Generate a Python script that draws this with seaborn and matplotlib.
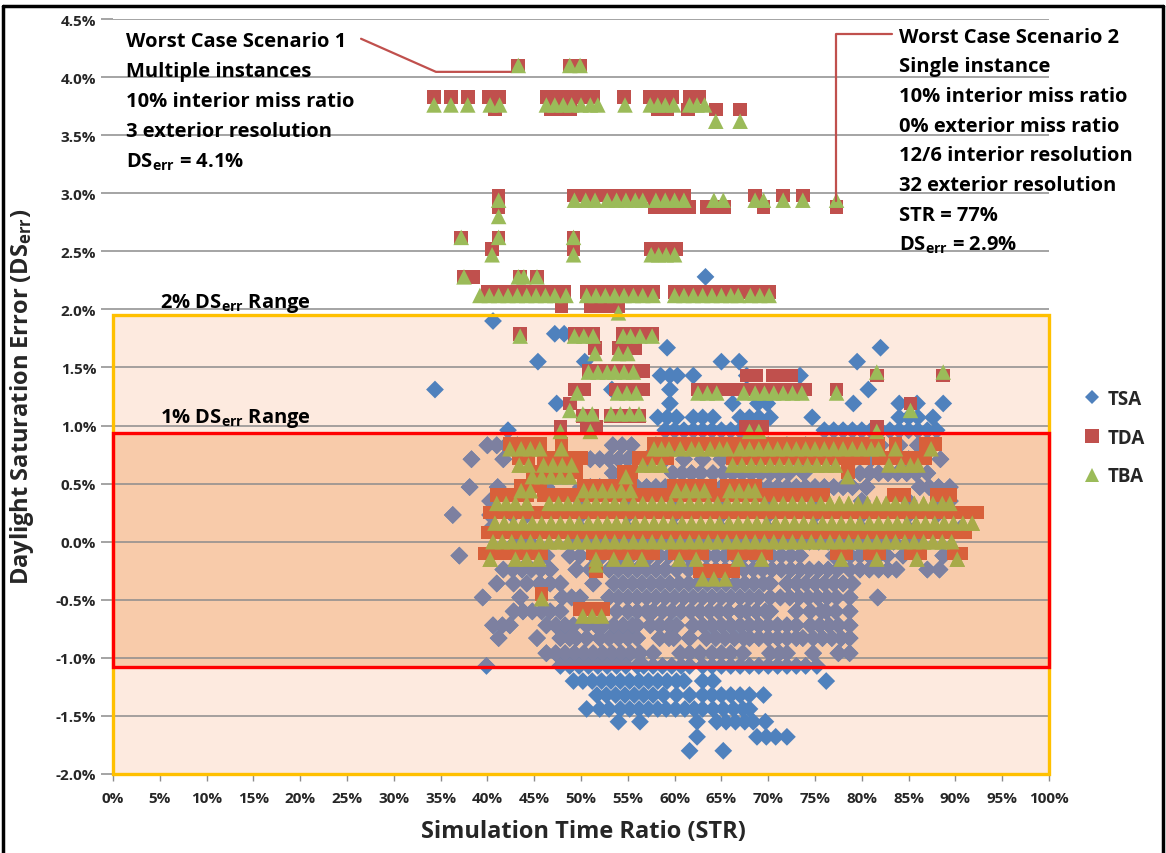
import matplotlib
matplotlib.use("Agg")
import matplotlib.pyplot as plt
from matplotlib.patches import Rectangle
from matplotlib.lines import Line2D
import pandas as pd
import seaborn as sns

# ---------------- data (STR %, DS_err %) ----------------
SERIES = ["TSA", "TDA", "TBA"]

TSA_ROWS = [
    (2.28, [63.3]),
    (1.90, [40.6]),
    (1.79, [47.2, 48.2]),
    (1.67, [59.2, 82.0]),
    (1.55, [45.4, 50.4, 65.0, 66.9, 79.5]),
    (1.43, [58.5, 59.5, 60.3, 62.0, 67.7, 73.4]),
    (1.31, [34.4, 53.3, 59.5, 80.7]),
    (1.19, [47.4, 59.5, 66.2, 68.9, 69.9, 79.1, 84.0, 85.9, 88.7]),
    (1.07, [50.4, 58.2, 59.2, 60.2, 62.0, 63.0, 64.1, 67.0, 68.0, 69.0, 70.2, 74.7, 84.0, 85.0, 86.0, 87.6]),
    (0.96, [42.2, 59, 60, 61, 62, 63, 64, 65, 66, 67, 68, 76, 77, 78, 79, 80, 81, 82, 83, 84, 85, 86, 87, 88]),
    (0.83, [40.0, 41.0, 42.0, 43.2, 53.4, 54.4, 55.4, 58, 60, 62, 64, 66, 68, 70, 72, 74, 76, 78, 80, 82, 84, 86]),
    (0.71, [38.3, 41.7, 51, 52, 53, 54, 55, 57, 59, 61, 63, 65, 67, 69, 71, 73, 75, 77, 79, 81, 83, 85, 88.4]),
    (0.59, [53.4, 59.8, 60.8, 61.8, 62.8, 64.1, 65.2, 66.2, 67.2, 68.2, 69.2, 70.2, 71.2, 72.2, 73.8,
            79.8, 80.8, 81.8, 82.8, 83.8, 84.8, 85.8, 87.0]),
    (0.47, [38.1, 41.1, 46.3, 50, 51, 52, 53, 54, 55, 56, 57, 58, 59, 60, 61, 62, 63, 64, 65, 66, 67, 68, 69,
            70, 71, 72, 73, 74, 75, 76, 77, 78, 79, 80.5, 86.2, 87.2, 88.2, 89.4]),
    (0.35, [40.3, 50, 55, 60, 65, 70, 75, 80, 85, 88.4, 89.4]),
    (0.23, [36.3, 40.3, 42.7, 44.2, 50, 55, 60, 65, 70, 75, 80, 85, 88.0]),
    (0.11, [40.3, 50, 55, 60, 65, 70, 75, 80, 85, 90.5]),
    (0.00, [43.1, 44.5, 49.2, 50.2, 51.2, 52.4, 53.4, 54.4, 55.4, 56.4, 57.4, 58.4, 59.4, 60.4, 61.4, 62.4,
            63.4, 64.4, 65.4, 66.4, 67.4, 68.4, 69.4, 70.4, 71.4, 72.4, 73.4, 74.4, 75.4, 76.4, 77.4, 78.4,
            79.4, 80.4, 81.4, 82.4, 83.4, 85.0, 86.0]),
    (-0.12, [37.0, 46.3, 48.8, 49.9, 51.3, 52.3, 53.4, 54.4, 55.4, 56.4, 57.4, 58.4, 59.4, 60.4, 61.4, 62.4,
             63.4, 64.4, 65.4, 66.4, 67.4, 68.4, 69.4, 70.4, 71.4, 72.4, 73.4, 77.0, 78.0, 78.8, 79.8, 80.8,
             81.8, 82.7, 84.4, 88.7]),
    (-0.24, [41.7, 42.7, 43.7, 44.7, 45.7, 46.7, 49.5, 51.0, 53.0, 54.0, 55.0, 56.0, 57.0, 58.0, 59.0, 60.2,
             61.5, 63.4, 64.4, 65.4, 66.4, 67.4, 68.4, 69.4, 70.4, 71.4, 72.4, 73.4, 74.4, 75.4, 76.4, 77.4,
             78.7, 79.8, 80.8, 81.8, 82.8, 83.7, 87.0, 88.3]),
    (-0.36, [41.0, 42.8, 44.2, 45.6, 46.7, 47.8, 51.3, 53.5, 54.5, 55.5, 56.5, 57.5, 58.5, 59.5, 60.5, 61.5,
             62.5, 63.5, 64.5, 65.5, 66.5, 67.5, 68.5, 69.5, 70.2, 72.0, 73.0, 74.0, 75.0, 76.0, 77.0, 78.0,
             79.0]),
    (-0.48, [39.5, 43.5, 48.0, 49.0, 49.9, 53.0, 54.0, 55.0, 56.0, 57.0, 58.0, 59.0, 60.0, 61.0, 62.0, 63.0,
             64.0, 65.0, 66.0, 67.0, 68.0, 69.0, 70.2, 71.3, 72.3, 73.3, 74.3, 75.3, 76.3, 77.3, 78.7, 81.7]),
    (-0.60, [42.8, 43.8, 44.8, 45.8, 46.7, 47.8, 53.8, 55.0, 56.0, 57.0, 57.7, 58.7, 59.7, 60.7, 61.7, 62.7,
             63.7, 64.7, 65.7, 67.0, 67.7, 68.7, 69.7, 70.2, 73.0, 74.5, 75.7, 76.2, 77.2, 78.7]),
    (-0.72, [40.6, 41.6, 42.4, 46.3, 47.3, 48.3, 49.2, 50.6, 51.6, 52.4, 53.5, 54.5, 55.5, 56.0, 57.4, 58.4,
             59.4, 60.2, 62.0, 63.0, 64.0, 65.0, 66.0, 67.0, 68.0, 69.0, 70.0, 71.0, 72.0, 73.0, 74.5, 75.5,
             76.5, 77.5, 78.7]),
    (-0.83, [41.2, 45.3, 47.8, 48.8, 49.5, 50.6, 52.0, 53.0, 54.0, 55.0, 56.0, 58.4, 59.4, 59.9, 61.6, 63.4,
             64.4, 65.4, 66.4, 67.4, 68.0, 69.0, 70.0, 71.0, 72.0, 73.0, 73.7, 74.8, 75.8, 76.8, 77.8, 78.7]),
    (-0.96, [46.3, 47.3, 48.3, 49.3, 50.3, 51.3, 52.3, 53.3, 54.3, 55.3, 56.3, 57.7, 60.6, 61.6, 62.7, 64.0,
             65.0, 66.0, 67.3, 70.2, 71.2, 72.0, 74.8, 77.5, 78.7]),
    (-1.07, [39.9, 47.8, 48.8, 49.8, 50.8, 51.8, 52.8, 53.8, 54.8, 56.0, 56.7, 57.7, 58.7, 59.7, 60.7, 61.6,
             63.0, 64.0, 65.0, 66.0, 67.0, 68.0, 69.0, 70.0, 71.0, 72.0, 73.0, 74.0, 75.2]),
    (-1.20, [49.2, 50.2, 51.2, 52.2, 53.2, 54.2, 55.2, 56.2, 57.2, 58.2, 59.2, 60.2, 61.0, 63.0, 64.1, 76.2]),
    (-1.32, [51.7, 52.7, 53.7, 54.7, 55.7, 56.7, 57.7, 58.8, 60.2, 61.6, 63.0, 64.0, 65.0, 66.0, 67.0, 68.0,
             69.5]),
    (-1.44, [50.6, 52.0, 53.0, 54.2, 55.2, 56.2, 57.2, 58.2, 59.1, 60.1, 61.1, 62.1, 63.0, 64.1, 65.2, 66.3,
             67.3, 68.0]),
    (-1.55, [54.0, 56.3, 62.4, 64.5, 65.5, 66.5, 67.5, 68.4, 69.7]),
    (-1.68, [62.4, 68.8, 69.8, 70.8, 72.0]),
    (-1.80, [61.6, 65.2]),
]

TDA_ROWS = [
    (4.10, [43.3, 48.8, 49.9]),
    (3.83, [34.3, 36.1, 37.9, 40.2, 41.3, 46.3, 47.3, 48.3, 49.3, 50.3, 51.3, 54.6, 57.4, 58.4, 59.7, 61.6, 62.6]),
    (3.72, [40.8, 46.8, 47.8, 48.8, 58.2, 59.2, 61.4, 64.4, 67.0]),
    (2.98, [41.2, 49.2, 50.2, 51.2, 52.6, 53.6, 54.6, 55.6, 56.5, 57.9, 58.9, 59.9, 61.0, 68.6, 71.6, 73.7]),
    (2.88, [41.2, 57.9, 58.9, 59.9, 61.0, 61.6, 63.4, 64.4, 65.3, 69.5, 77.3]),
    (2.62, [37.2, 41.2, 49.2]),
    (2.52, [40.5, 49.2, 57.5, 58.5, 59.5, 60.2]),
    (2.28, [37.5, 38.5, 43.5, 45.3]),
    (2.15, [40.0, 41.0, 42.0, 43.0, 44.0, 45.0, 46.0, 47.0, 48.2, 50.6, 51.6, 52.6, 53.6, 54.6, 55.6, 56.6,
            57.7, 60.0, 61.0, 62.0, 63.0, 64.0, 65.0, 66.0, 66.8, 68.1, 69.1, 70.1]),
    (2.03, [47.9, 51.0, 52.0, 53.0, 54.0]),
    (1.79, [43.5, 49.3, 50.3, 51.3, 54.5, 55.5, 56.3, 57.6]),
    (1.67, [51.5, 54.0, 55.0, 55.8]),
    (1.47, [50.8, 51.8, 52.8, 53.8, 54.8, 55.8, 56.6]),
    (1.43, [67.7, 68.7, 70.5, 71.5, 72.5, 81.6, 88.7]),
    (1.31, [49.3, 50.3, 53.7, 54.7, 55.7, 56.6, 62.5, 63.5, 64.5, 65.5, 67.0, 68.0, 69.0, 70.0, 71.0, 72.0,
            73.0, 74.0, 77.3]),
    (1.19, [48.8, 85.2]),
    (1.08, [50.2, 51.2, 53.2, 54.2, 55.2, 56.2]),
    (0.99, [47.8, 50.6, 51.6, 67.6, 68.6, 69.4, 81.6]),
    (0.84, [42.4, 43.6, 44.6, 45.6, 47.9, 57.8, 58.8, 59.8, 60.8, 61.8, 62.8, 63.8, 64.8, 65.8, 66.8, 67.8,
            68.8, 69.8, 70.8, 71.8, 72.8, 73.8, 74.8, 75.8, 76.8, 77.8, 78.8, 79.8, 80.8, 81.8, 83.6, 86.8, 87.8]),
    (0.72, [43.4, 44.4, 46.0, 47.0, 48.0, 49.0, 50.0, 56.2, 57.2, 58.2, 59.2, 66.2, 67.2, 68.2, 69.2, 70.2,
            71.2, 72.2, 73.2, 74.2, 75.2, 76.2, 77.2, 78.2, 79.2, 80.2, 81.8, 82.8, 83.8, 84.8, 85.8, 86.8]),
    (0.60, [44.8, 45.8, 46.8, 47.8, 48.8, 49.5, 54.6, 55.4, 78.5]),
    (0.48, [43.6, 44.6, 45.6, 50.3, 51.3, 52.3, 53.3, 54.3, 55.3, 59.9, 60.9, 61.9, 62.9, 63.8, 65.6, 66.6,
            67.6, 68.6]),
    (0.40, [41.0, 42.0, 43.0, 44.2, 46.0, 47.0, 48.0, 49.0, 50.0, 51.0, 52.0, 53.0, 54.0, 55.0, 56.0, 57.0,
            58.0, 59.0, 60.0, 61.0, 62.0, 63.0, 64.0, 65.0, 66.0, 67.0, 68.0, 69.0, 70.0, 71.0, 72.0, 73.0,
            73.8, 75.0, 75.9, 83.4, 84.5, 88.0, 89.4]),
    (0.25, [40.3, 41.3, 42.3, 43.3, 44.3, 45.3, 46.3, 47.3, 48.3, 49.3, 50.3, 51.3, 52.3, 53.3, 54.3, 55.3,
            56.3, 57.3, 58.3, 59.3, 60.3, 61.3, 62.3, 63.3, 64.3, 65.3, 66.3, 67.3, 68.3, 69.3, 70.3, 71.3,
            72.3, 73.3, 74.3, 75.3, 76.3, 77.3, 78.3, 79.3, 80.3, 81.3, 82.3, 83.3, 84.3, 85.3, 86.3, 87.3,
            88.3, 89.3, 90.3, 91.3, 92.3]),
    (0.08, [40.0, 41.0, 42.0, 43.0, 44.0, 45.0, 46.0, 47.0, 48.0, 49.0, 50.0, 51.0, 52.0, 53.0, 54.0, 55.0,
            56.0, 57.0, 58.0, 59.0, 60.0, 61.0, 62.0, 63.0, 64.0, 65.0, 66.0, 67.0, 68.0, 69.0, 70.0, 71.0,
            72.0, 73.0, 74.0, 75.0, 76.0, 77.0, 78.0, 79.0, 80.0, 81.0, 82.0, 83.0, 84.0, 85.0, 86.0, 87.0,
            88.0, 89.0, 90.0, 91.0]),
    (-0.10, [39.7, 40.7, 41.7, 42.7, 43.7, 44.7, 45.7, 51.3, 52.3, 53.0, 54.0, 55.0, 56.0, 57.0, 57.7, 60.0,
             61.0, 62.0, 63.0, 66.3, 67.3, 68.8, 69.8, 77.3, 78.3, 80.9, 81.9, 85.2, 86.2, 89.8, 90.6]),
    (-0.25, [51.6, 62.7, 63.7, 64.7, 65.7, 66.3]),
    (-0.45, [45.8]),
    (-0.58, [49.9, 50.9, 51.9, 52.4]),
]

TBA_ROWS = [
    (4.10, [43.3, 48.8, 49.9]),
    (3.76, [34.3, 36.1, 37.9, 40.3, 41.3, 46.3, 47.2, 48.1, 49.0, 50.0, 51.0, 51.8, 54.7, 57.4, 58.2, 59.0,
            59.9, 61.6, 62.4, 63.2]),
    (3.62, [64.4, 67.0]),
    (2.94, [41.2, 49.3, 50.5, 51.5, 52.8, 53.8, 54.8, 55.8, 56.6, 58.0, 59.0, 60.0, 61.0, 64.2, 65.2, 68.6,
            69.5, 71.6, 73.7, 77.3]),
    (2.80, [41.2]),
    (2.62, [37.2, 41.2, 49.2]),
    (2.47, [40.5, 49.2, 57.5, 58.3, 59.1, 60.0]),
    (2.28, [37.5, 43.3, 43.9, 45.3]),
    (2.12, [39.2, 40.2, 41.2, 42.2, 43.2, 44.2, 45.2, 46.2, 47.2, 48.4, 50.6, 51.6, 52.6, 53.6, 54.6, 55.6,
            56.6, 57.7, 60.0, 61.0, 62.0, 63.0, 64.0, 65.0, 66.0, 66.8, 68.1, 69.1, 70.1]),
    (1.97, [54.0]),
    (1.77, [43.5, 49.3, 50.3, 51.3, 54.5, 55.3, 56.3, 57.6]),
    (1.62, [51.5, 54.0, 55.0]),
    (1.46, [50.8, 51.8, 52.8, 53.6, 54.6, 55.6, 81.6, 88.7]),
    (1.28, [49.6, 53.9, 54.9, 55.9, 62.5, 63.5, 64.5, 67.4, 68.6, 69.6, 70.6, 71.6, 72.6, 73.6, 77.3]),
    (1.13, [48.8, 85.2]),
    (1.10, [50.2, 51.2, 53.2, 54.2, 55.2, 56.2]),
    (0.95, [47.8, 51.0, 68.0, 69.0, 81.6]),
    (0.80, [42.4, 43.6, 44.6, 45.6, 47.9, 57.8, 58.6, 59.4, 60.6, 61.8, 62.6, 63.8, 64.8, 65.6, 67.0, 68.0,
            69.0, 70.0, 71.0, 72.0, 73.0, 74.0, 75.0, 76.0, 77.0, 78.0, 79.0, 80.0, 81.0, 81.8, 83.6, 87.4]),
    (0.66, [43.4, 44.4, 46.0, 47.0, 48.0, 49.0, 56.6, 57.6, 58.6, 66.2, 67.2, 68.2, 69.2, 70.2, 71.2, 72.2,
            73.2, 74.2, 75.2, 76.2, 77.2, 82.9, 84.2, 85.2, 86.0]),
    (0.56, [44.8, 45.8, 46.8, 47.8, 48.8, 54.8, 78.5]),
    (0.44, [43.6, 44.6, 50.3, 51.3, 52.3, 53.3, 54.3, 55.3, 60.2, 61.2, 62.2, 63.2, 65.9, 66.9, 67.9, 68.6]),
    (0.33, [41.0, 42.0, 43.0, 44.2, 46.6, 47.6, 48.6, 49.6, 50.6, 51.6, 52.6, 53.6, 54.6, 55.6, 56.6, 57.6,
            58.6, 59.6, 60.6, 61.6, 62.6, 63.6, 64.6, 65.6, 66.6, 67.6, 68.6, 69.6, 70.6, 71.6, 72.6, 73.6,
            74.6, 75.6, 76.6, 77.6, 78.6, 79.6, 80.6, 81.6, 82.6, 83.6, 84.6, 85.6, 86.6, 87.6, 88.6, 89.4]),
    (0.16, [40.8, 41.8, 42.8, 43.8, 44.8, 45.8, 46.8, 47.8, 48.8, 49.8, 50.8, 51.8, 52.8, 53.8, 54.8, 55.8,
            56.8, 57.8, 58.8, 59.8, 60.8, 61.8, 62.8, 63.8, 64.8, 65.8, 66.8, 67.8, 68.8, 69.8, 70.8, 71.8,
            72.8, 73.8, 74.8, 75.8, 76.8, 77.8, 78.8, 79.8, 80.8, 81.8, 82.8, 83.8, 84.8, 85.8, 86.8, 87.8,
            88.8, 89.8, 90.8, 91.8]),
    (0.00, [40.6, 41.6, 42.6, 43.6, 44.6, 45.6, 46.6, 47.6, 48.6, 49.6, 50.6, 51.6, 52.6, 53.6, 54.6, 55.6,
            56.6, 57.6, 58.6, 59.6, 60.6, 61.6, 62.6, 63.6, 64.6, 65.6, 66.6, 67.6, 68.6, 69.6, 70.6, 71.6,
            72.6, 73.6, 74.6, 75.6, 76.6, 77.6, 78.6, 79.6, 80.6, 81.6, 82.6, 83.6, 84.6, 85.6, 86.6, 87.6,
            88.6, 89.6]),
    (-0.15, [40.3, 43.0, 44.2, 45.5, 51.6, 53.5, 55.0, 56.5, 60.5, 62.3, 66.8, 69.3, 77.8, 81.6, 85.9, 90.2]),
    (-0.20, [51.6]),
    (-0.32, [63.0, 64.2, 65.4]),
    (-0.49, [45.8]),
    (-0.64, [50.2, 51.2, 52.2]),
]

X_TICKS = [0, 5, 10, 15, 20, 25, 30, 35, 40, 45, 50, 55, 60, 65, 70, 75, 80, 85, 90, 95, 100]
X_TICK_LABELS = ["0%", "5%", "10%", "15%", "20%", "25%", "30%", "35%", "40%", "45%", "50%",
                 "55%", "60%", "65%", "70%", "75%", "80%", "85%", "90%", "95%", "100%"]
Y_TICKS = [-2.0, -1.5, -1.0, -0.5, 0.0, 0.5, 1.0, 1.5, 2.0, 2.5, 3.0, 3.5, 4.0, 4.5]
Y_TICK_LABELS = ["-2.0%", "-1.5%", "-1.0%", "-0.5%", "0.0%", "0.5%", "1.0%", "1.5%", "2.0%",
                 "2.5%", "3.0%", "3.5%", "4.0%", "4.5%"]

RANGE_2PCT = (-2.0, 1.953)    # DS_err range box (2%)
RANGE_1PCT = (-1.076, 0.938)  # DS_err range box (1%)

LEFT_NOTE = ["Worst Case Scenario 1", "Multiple instances", "10% interior miss ratio",
             "3 exterior resolution", "DS$_{\\mathrm{err}}$ = 4.1%"]
RIGHT_NOTE = ["Worst Case Scenario 2", "Single instance", "10% interior miss ratio",
              "0% exterior miss ratio", "12/6 interior resolution", "32 exterior resolution",
              "STR = 77%", "DS$_{\\mathrm{err}}$ = 2.9%"]

# ---------------- style ----------------
FONT = "Open Sans"
sns.set_theme(style="white")
plt.rcParams["font.family"] = [FONT, "DejaVu Sans"]
plt.rcParams["font.weight"] = "bold"
plt.rcParams["mathtext.fontset"] = "custom"
plt.rcParams["mathtext.rm"] = FONT + ":bold"
plt.rcParams["mathtext.it"] = FONT + ":bold"
plt.rcParams["mathtext.bf"] = FONT + ":bold"

COLORS = {"TSA": "#4f81bd", "TDA": "#c0504d", "TBA": "#9bbb59"}
INNER_COLORS = {"TSA": "#7d80a0", "TDA": "#d8603a", "TBA": "#a8aa48"}
MARKERS = {"TSA": "D", "TDA": "s", "TBA": "^"}
SIZES = {"TSA": 82, "TDA": 96, "TBA": 125}


def expand(rows, name):
    return pd.DataFrame([(x, y, name) for y, xs in rows for x in xs],
                        columns=["STR", "DSerr", "series"])


df = pd.concat([expand(TSA_ROWS, "TSA"), expand(TDA_ROWS, "TDA"), expand(TBA_ROWS, "TBA")],
               ignore_index=True)

W, H = 1166, 854
fig = plt.figure(figsize=(W / 100, H / 100), dpi=100)
ax = fig.add_axes([113 / W, 79 / H, 936 / W, 755 / H])
ax.set_xlim(0, 100)
ax.set_ylim(-2.0, 4.5)

# range fills
lo2, hi2 = RANGE_2PCT
lo1, hi1 = RANGE_1PCT
ax.add_patch(Rectangle((0, lo2), 100, hi2 - lo2, facecolor="#fdeadf", edgecolor="none", zorder=0.1))
ax.add_patch(Rectangle((0, lo1), 100, hi1 - lo1, facecolor="#f8cbaa", edgecolor="none", zorder=0.2))

ax.set_axisbelow(True)
ax.yaxis.grid(True, color="#8c8c8c", linewidth=1.1)
ax.xaxis.grid(False)

# markers
for i, name in enumerate(SERIES):
    sub = df[df.series == name]
    sns.scatterplot(data=sub, x="STR", y="DSerr", marker=MARKERS[name], s=SIZES[name],
                    color=COLORS[name], linewidth=0, edgecolor="none", ax=ax, legend=False,
                    zorder=2 + 0.1 * i)
clip_rect = Rectangle((0, lo1), 100, hi1 - lo1, transform=ax.transData)
for i, name in enumerate(SERIES):
    sub = df[df.series == name]
    sns.scatterplot(data=sub, x="STR", y="DSerr", marker=MARKERS[name], s=SIZES[name],
                    color=INNER_COLORS[name], linewidth=0, edgecolor="none", ax=ax, legend=False,
                    zorder=3 + 0.1 * i)
    ax.collections[-1].set_clip_path(clip_rect)

# range box outlines
ax.add_patch(Rectangle((0, lo2), 100, hi2 - lo2, fill=False, edgecolor="#ffc000", linewidth=2.4,
                       zorder=5, clip_on=False))
ax.add_patch(Rectangle((0, lo1), 100, hi1 - lo1, fill=False, edgecolor="#ff0000", linewidth=2.4,
                       zorder=5.1, clip_on=False))

# axes / ticks
for sp in ax.spines.values():
    sp.set_visible(False)
ax.set_xticks(X_TICKS)
ax.set_xticklabels(X_TICK_LABELS)
ax.set_yticks(Y_TICKS)
ax.set_yticklabels(Y_TICK_LABELS)
ax.tick_params(axis="x", direction="out", length=5, width=1, color="#8c8c8c", pad=7,
               labelsize=11, bottom=True)
ax.tick_params(axis="y", direction="out", length=9, width=1.1, color="#8c8c8c", pad=3,
               labelsize=11, left=True)
for lab in ax.get_xticklabels() + ax.get_yticklabels():
    lab.set_fontweight("bold")
ax.set_xlabel("")
ax.set_ylabel("")

# annotations
note_kw = dict(fontsize=14.5, fontweight="bold", va="center_baseline", ha="left", color="black",
               zorder=6, clip_on=False)
for k, line in enumerate(LEFT_NOTE):
    ax.text(1.4, 4.33 - 0.258 * k, line, **note_kw)
for k, line in enumerate(RIGHT_NOTE):
    ax.text(84.0, 4.37 - 0.2555 * k, line, **note_kw)
ax.text(5.0, 2.09, "2% DS$_{\\mathrm{err}}$ Range", **note_kw)
ax.text(5.0, 1.10, "1% DS$_{\\mathrm{err}}$ Range", **note_kw)

ax.plot([26.5, 34.5, 42.5], [4.33, 4.045, 4.045], color="#c0504d", linewidth=1.6, zorder=6,
        clip_on=False)
ax.plot([83.2, 77.2, 77.2], [4.37, 4.37, 2.93], color="#c0504d", linewidth=1.6, zorder=6,
        clip_on=False)

fig.text(22 / W, 1 - 397 / H, "Daylight Saturation Error (DS$_{\\mathrm{err}}$)", rotation=90,
         ha="center", va="center", fontsize=17, fontweight="bold")
fig.text(583 / W, 1 - 832 / H, "Simulation Time Ratio (STR)", ha="center", va="center",
         fontsize=17, fontweight="bold")

# legend
handles = [Line2D([], [], marker=MARKERS[n], linestyle="", color=COLORS[n],
                  markersize={"TSA": 7, "TDA": 9.5, "TBA": 10.5}[n], markeredgewidth=0)
           for n in SERIES]
fig.legend(handles, SERIES, loc="upper left", bbox_to_anchor=(1083 / W, 1 - 390 / H),
           frameon=False, prop={"weight": "bold", "size": 13.5}, handletextpad=0.3,
           labelspacing=1.0, handlelength=1.0, borderaxespad=0, borderpad=0)

# outer frame of the figure
fr = dict(transform=fig.transFigure, color="black", linewidth=2.5)
fig.add_artist(Line2D([3 / W, 1163 / W], [1 - 7 / H, 1 - 7 / H], **fr))
fig.add_artist(Line2D([3 / W, 3 / W], [0, 1 - 7 / H], **fr))
fig.add_artist(Line2D([1163 / W, 1163 / W], [0, 1 - 7 / H], **fr))

fig.savefig("out.png", dpi=100)
